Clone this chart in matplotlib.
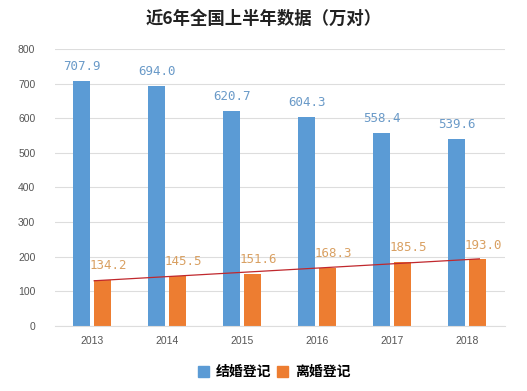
import matplotlib
matplotlib.use("Agg")
from matplotlib import pyplot as plt
from matplotlib.patches import Patch
import numpy as np

plt.rcParams['font.family'] = ['Noto Sans CJK SC', 'DejaVu Sans']

years = ['2013', '2014', '2015', '2016', '2017', '2018']
marriage = [707.9, 694.0, 620.7, 604.3, 558.4, 539.6]
divorce = [134.2, 145.5, 151.6, 168.3, 185.5, 193.0]

blue = '#5B9BD5'
orange = '#ED7D31'

fig = plt.figure(figsize=(5.27, 3.91), dpi=100)
ax = fig.add_axes([0.104, 0.166, 0.854, 0.709])

x = np.arange(len(years))
w = 0.23
gap = 0.025
bx = x - w / 2 - gap
ox = x + w / 2 + gap
ax.bar(bx, marriage, w, color=blue, zorder=2)
ax.bar(ox, divorce, w, color=orange, zorder=2)

for xi, v in zip(bx, marriage):
    ax.text(xi, v + 22, f'{v:.1f}', ha='center', va='bottom',
            fontsize=9, color='#6A9AC8', family='DejaVu Sans Mono')
for xi, v in zip(ox, divorce):
    ax.text(xi + 0.07, v + 22, f'{v:.1f}', ha='center', va='bottom',
            fontsize=9, color='#D9A062', family='DejaVu Sans Mono')

# linear trendline for divorce
k, b = np.polyfit(x, divorce, 1)
tx = np.array([ox[0] - w / 2, ox[-1] + 0.02])
ax.plot(tx, k * (tx - w / 2 - gap) + b, color='#C0282D', lw=0.9, zorder=3)

ax.set_xlim(-0.5, 5.5)
ax.set_ylim(0, 800)
ax.set_yticks(range(0, 801, 100))
ax.set_xticks(x)
ax.set_xticklabels(years)
ax.tick_params(length=0, labelsize=7.5, colors='#555555', pad=7)
ax.tick_params(axis='y', pad=14)
for lab in ax.get_xticklabels() + ax.get_yticklabels():
    lab.set_family('Liberation Sans')
ax.grid(axis='y', color='#DDDDDD', lw=0.8, zorder=0)
for s in ['top', 'right', 'left']:
    ax.spines[s].set_visible(False)
ax.spines['bottom'].set_color('#DDDDDD')

fig.suptitle('近6年全国上半年数据（万对）', x=0.5, y=0.975, fontsize=12.5,
             fontweight='bold', color='#222222')

handles = [Patch(color=blue, label='结婚登记'), Patch(color=orange, label='离婚登记')]
fig.legend(handles=handles, loc='center', bbox_to_anchor=(0.52, 0.048), ncol=2,
           frameon=False, prop={'size': 10, 'weight': 'bold'},
           handlelength=0.8, handleheight=0.8, handletextpad=0.5, columnspacing=0.4)

fig.savefig('out.png', dpi=100)
